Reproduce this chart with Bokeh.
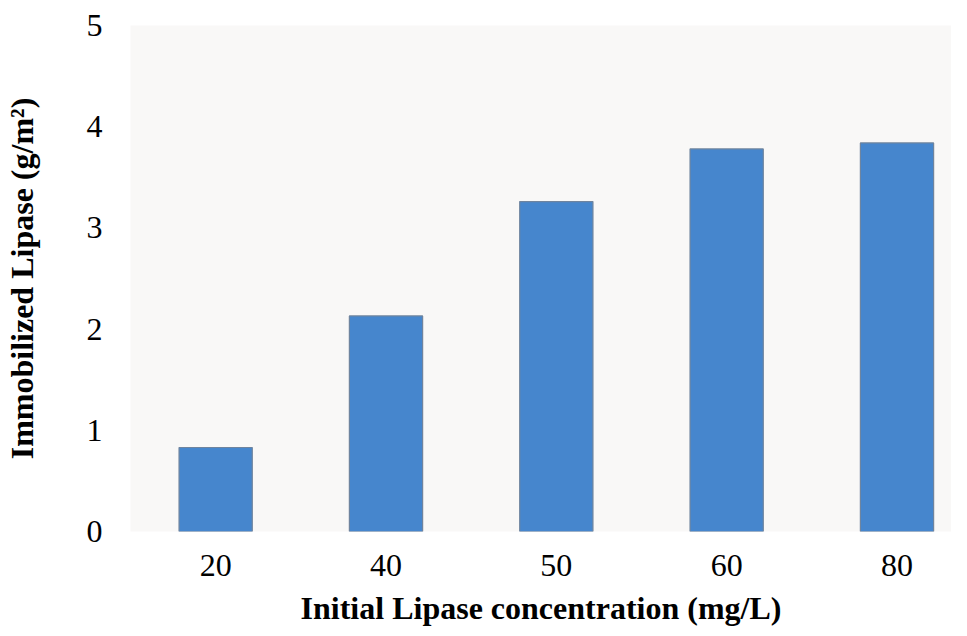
from bokeh.plotting import figure
from bokeh.models import ColumnDataSource, Range1d, FixedTicker
from bokeh.embed import file_html
from bokeh.resources import INLINE

categories = ["20", "40", "50", "60", "80"]
values = [0.83, 2.13, 3.26, 3.78, 3.84]
y_ticks = [0, 1, 2, 3, 4, 5]

xs = list(range(len(categories)))
src = ColumnDataSource(dict(x=xs, top=values, label=categories))

p = figure(width=951, height=628, output_backend="svg", toolbar_location=None,
           x_range=Range1d(-0.5, 4.32), y_range=Range1d(0, 5),
           min_border_left=100, min_border_top=25, min_border_bottom=80, min_border_right=0)
p.background_fill_color = "#f9f8f7"
p.border_fill_color = "white"
p.outline_line_color = None
p.grid.grid_line_color = None

p.vbar(x="x", top="top", width=0.43, bottom=0, source=src,
       fill_color="#4686cd", line_color="#6f849e", line_width=1.2)

font = "Liberation Serif"
p.xaxis.ticker = FixedTicker(ticks=xs)
p.xaxis.major_label_overrides = {i: c for i, c in zip(xs, categories)}
p.yaxis.ticker = FixedTicker(ticks=y_ticks)

for ax in (p.xaxis, p.yaxis):
    ax.axis_line_color = None
    ax.major_tick_line_color = None
    ax.minor_tick_line_color = None
    ax.major_label_text_font = font
    ax.major_label_text_font_size = "32px"
    ax.major_label_text_color = "black"
    ax.axis_label_text_font = font
    ax.axis_label_text_font_size = "32px"
    ax.axis_label_text_font_style = "bold"
    ax.axis_label_text_color = "black"

p.xaxis.axis_label = "Initial Lipase concentration (mg/L)"
p.yaxis.axis_label = "Immobilized Lipase (g/m²)"
p.xaxis.major_label_standoff = 17
p.xaxis.axis_label_standoff = 11
p.yaxis.major_label_standoff = 22
p.yaxis.axis_label_standoff = 44

open("out.html", "w").write(file_html(p, INLINE))
